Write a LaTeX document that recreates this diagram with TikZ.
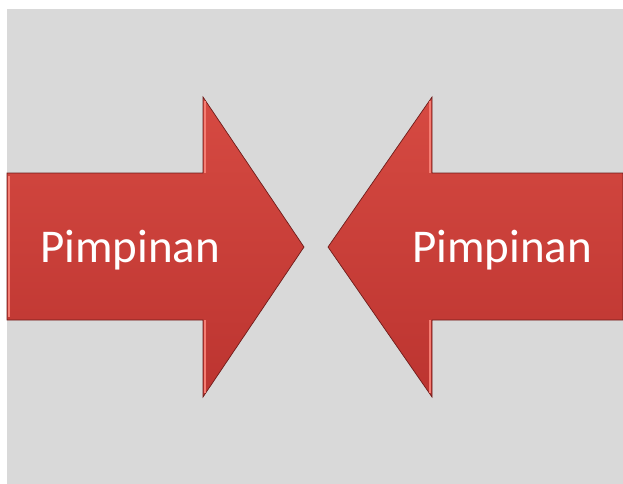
\documentclass[tikz,border=0pt]{standalone}
\usepackage{fontspec}
\setmainfont{Carlito}
\usepackage{xcolor}
\definecolor{panelgray}{RGB}{217,217,217}
\definecolor{arrowtop}{RGB}{214,74,66}
\definecolor{arrowbottom}{RGB}{188,52,48}
\definecolor{arrowedge}{RGB}{110,28,26}
\definecolor{arrowshine}{RGB}{245,125,115}
\usepackage{tikz}
\usetikzlibrary{calc}

\tikzset{
  bigarrow/.style={top color=arrowtop, bottom color=arrowbottom, draw=arrowedge, line width=0.7pt, line join=miter},
  shine/.style={arrowshine, line width=2pt},
  arrowlabel/.style={text=white, font=\fontsize{47}{51}\selectfont, inner sep=0pt}
}

\begin{document}
\begin{tikzpicture}[x=1pt, y=-1pt]
    % frame and gray panel
    \useasboundingbox (0,0) rectangle (623,483);
    \fill[white] (0,0) rectangle (623,483);
    \fill[panelgray] (7,9) rectangle (624,484);

    % arrow pointing right
    \draw[bigarrow] (7,173) -- (203,173) -- (203,97) -- (304,247)
      -- (203,397) -- (203,320) -- (7,320) -- cycle;
    \draw[shine] (9,176) -- (9,317);
    \draw[shine] (205,101) -- (205,173);
    \draw[shine] (205,320) -- (205,393);
    \node[arrowlabel, anchor=base west] (leftlabel) at (40,262) {Pimpinan};

    % arrow pointing left
    \draw[bigarrow] (623,173) -- (432,173) -- (432,97) -- (328,247)
      -- (432,397) -- (432,320) -- (623,320) -- cycle;
    \draw[shine] (430,101) -- (430,173);
    \draw[shine] (430,320) -- (430,393);
    \node[arrowlabel, anchor=base west] (rightlabel) at (412,262) {Pimpinan};
\end{tikzpicture}
\end{document}
